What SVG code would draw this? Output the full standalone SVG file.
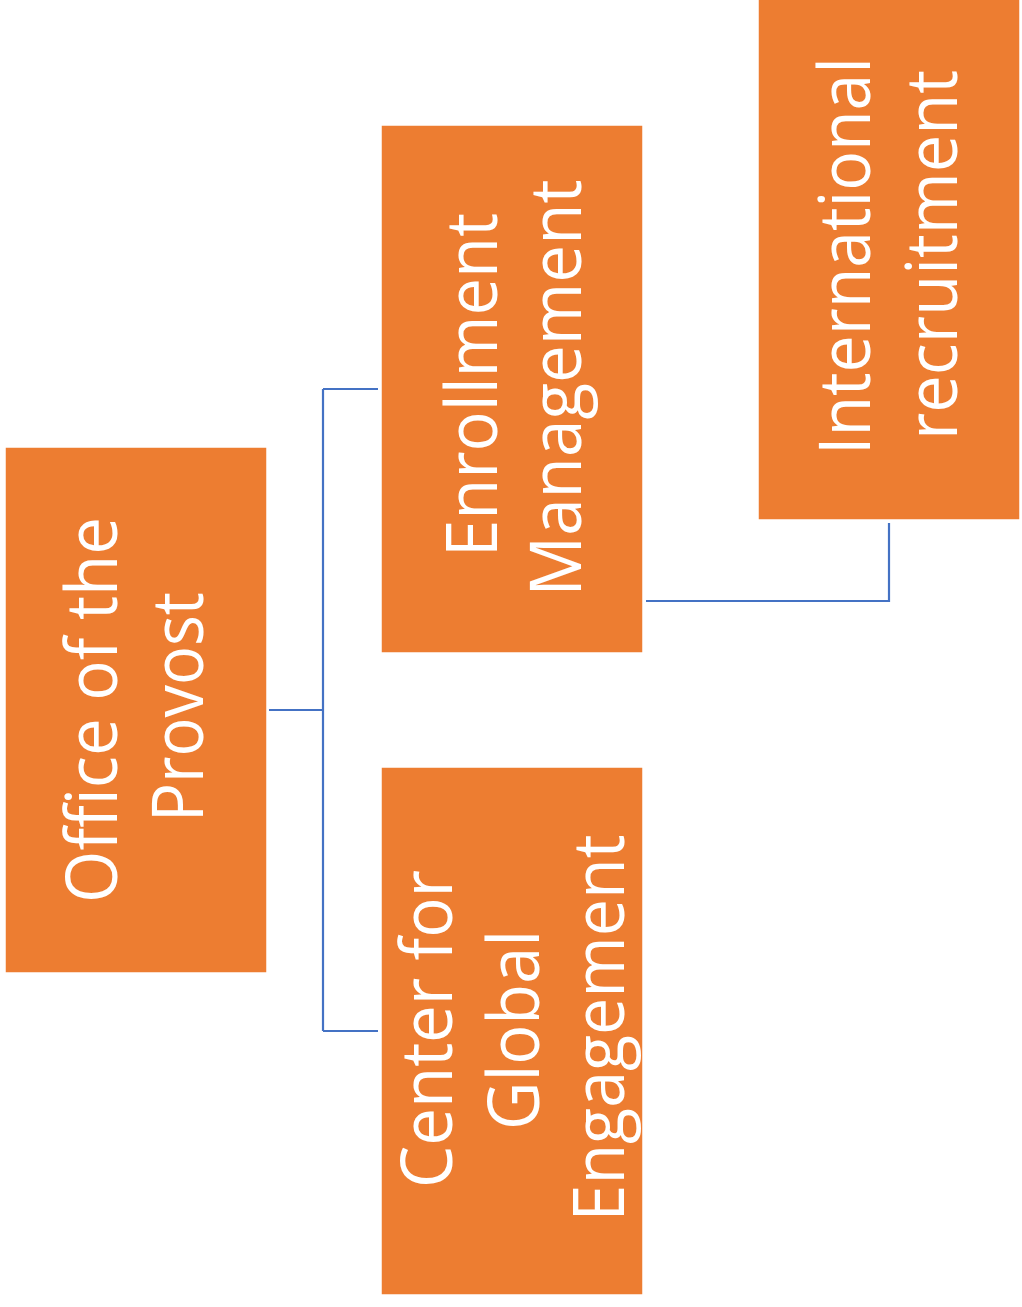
<svg xmlns="http://www.w3.org/2000/svg" width="1022" height="1307" viewBox="0 0 1022 1307">
  <style>
    .box { fill: #ED7D31; stroke: #FFFFFF; stroke-width: 1.5; }
    .lbl { fill: #FFFFFF; font-family: "Open Sans", "Noto Sans", "Liberation Sans", sans-serif; font-size: 72px; text-anchor: middle; }
    .conn { fill: none; stroke: #4472C4; stroke-width: 2.2; }
  </style>
  <rect width="1022" height="1307" fill="#FFFFFF"/>
  <g id="connectors">
    <path class="conn" d="M 269 710 H 323 M 323 389 V 1031 M 323 389 H 378 M 323 1031 H 378"/>
    <path class="conn" d="M 646 601 H 889 V 523"/>
  </g>
  <g id="node-provost">
    <rect class="box" x="5" y="447" width="262" height="526"/>
    <text class="lbl" transform="translate(117,710) rotate(-90)" textLength="386" lengthAdjust="spacingAndGlyphs">Office of the</text>
    <text class="lbl" transform="translate(203,707) rotate(-90)" textLength="230" lengthAdjust="spacingAndGlyphs">Provost</text>
  </g>
  <g id="node-enrollment">
    <rect class="box" x="381" y="125" width="262" height="528"/>
    <text class="lbl" transform="translate(497,385) rotate(-90)" textLength="344" lengthAdjust="spacingAndGlyphs">Enrollment</text>
    <text class="lbl" transform="translate(581,388) rotate(-90)" textLength="417" lengthAdjust="spacingAndGlyphs">Management</text>
  </g>
  <g id="node-cge">
    <rect class="box" x="381" y="767" width="262" height="528"/>
    <text class="lbl" transform="translate(452,1029) rotate(-90)" textLength="318" lengthAdjust="spacingAndGlyphs">Center for</text>
    <text class="lbl" transform="translate(539,1030) rotate(-90)" textLength="200" lengthAdjust="spacingAndGlyphs">Global</text>
    <text class="lbl" transform="translate(624,1028) rotate(-90)" textLength="387" lengthAdjust="spacingAndGlyphs">Engagement</text>
  </g>
  <g id="node-international">
    <rect class="box" x="758" y="-2" width="262" height="522"/>
    <text class="lbl" transform="translate(870,256) rotate(-90)" textLength="398" lengthAdjust="spacingAndGlyphs">International</text>
    <text class="lbl" transform="translate(957,255) rotate(-90)" textLength="370" lengthAdjust="spacingAndGlyphs">recruitment</text>
  </g>
</svg>
